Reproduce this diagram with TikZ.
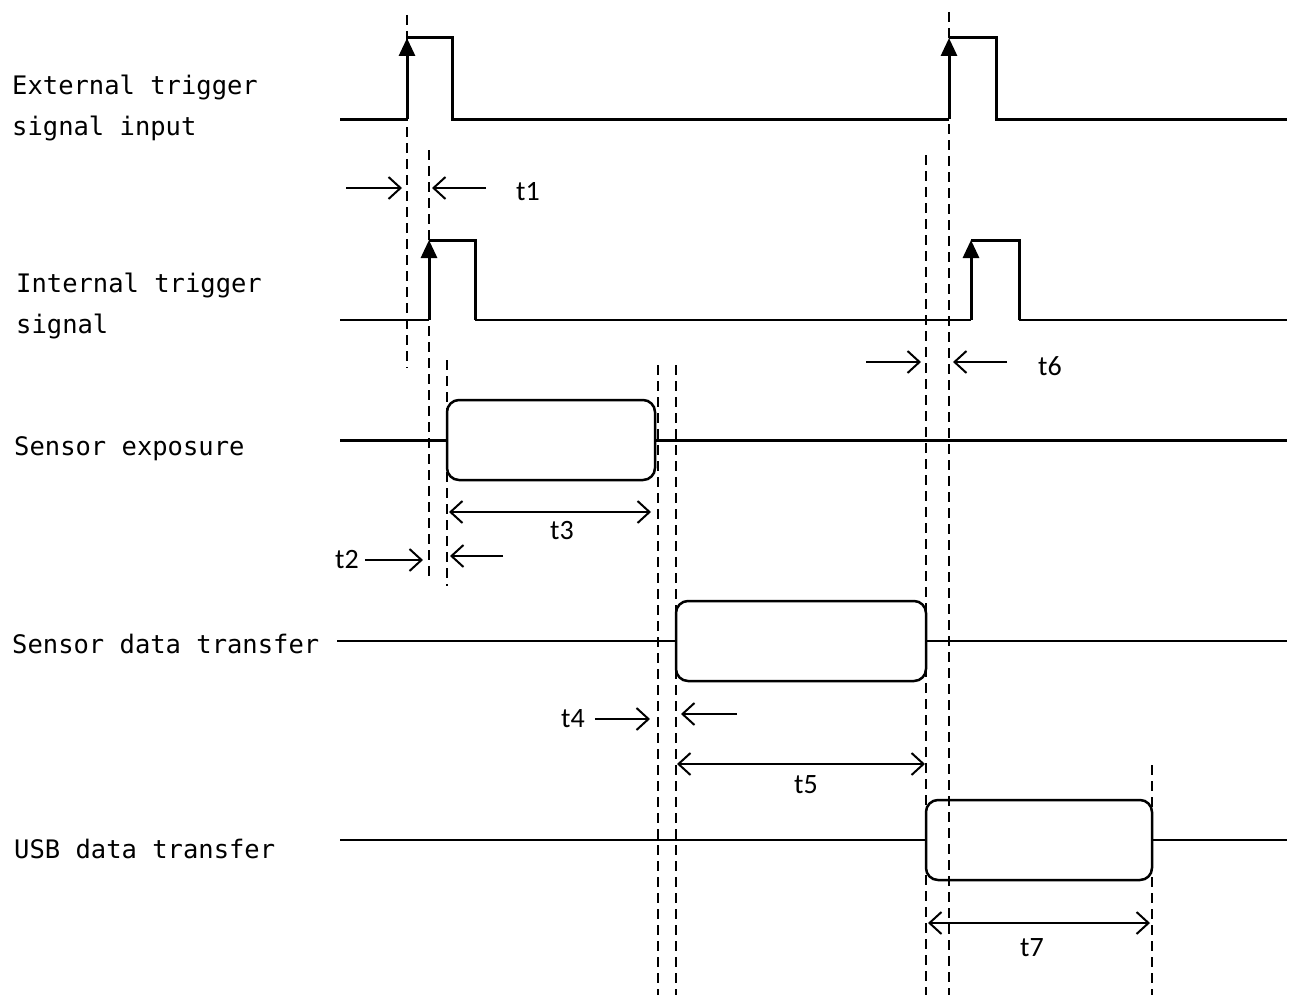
\documentclass[tikz,border=0pt]{standalone}
\usepackage{fontspec}
\newfontfamily\sigfont{DejaVu Sans Mono}
\newfontfamily\timefont{Carlito}
\usetikzlibrary{arrows.meta}

\begin{document}
\begin{tikzpicture}[
  x=1pt, y=-1pt,
  sig/.style={line width=3pt},
  thinsig/.style={line width=2pt},
  edge/.style={line width=3pt, -{Triangle[length=18pt, width=16pt]}},
  guide/.style={line width=2pt, dash pattern=on 10pt off 6pt},
  tick/.style={line width=2pt, -{Straight Barb[length=12pt, width=22pt]}},
  span/.style={line width=2pt, {Straight Barb[length=12pt, width=22pt]}-{Straight Barb[length=12pt, width=22pt]}},
  busy/.style={draw, line width=2.5pt, rounded corners=12pt, minimum height=80pt, inner sep=0pt},
  lbl/.style={font=\sigfont\fontsize{25.5}{41}\selectfont, anchor=base west, align=left, inner sep=0pt},
  tlbl/.style={font=\timefont\fontsize{28}{30}\selectfont, inner sep=0pt}
]
\useasboundingbox (0,0) rectangle (1293,998);

% Signal names
\node[lbl] (ext) at (12,135) {External trigger\\signal input};
\node[lbl] (int) at (16,333) {Internal trigger\\signal};
\node[lbl] (exp) at (14,455) {Sensor exposure};
\node[lbl] (sdt) at (12,653) {Sensor data transfer};
\node[lbl] (usb) at (14,858) {USB data transfer};

% Busy intervals
\node[busy, minimum width=208pt] (expbox) at (551,440) {};
\node[busy, minimum width=250pt] (sdtbox) at (801,641) {};
\node[busy, minimum width=226pt] (usbbox) at (1039,840) {};

% External trigger
\draw[sig] (340,119) -- (407,119);
\draw[edge] (407,119) -- (407,38);
\draw[sig] (407,38) -- (452,38) -- (452,119) -- (949,119);
\draw[edge] (949,119) -- (949,38);
\draw[sig] (949,38) -- (996,38) -- (996,119) -- (1287,119);

% Internal trigger
\draw[thinsig] (340,320) -- (429,320);
\draw[edge] (429,320) -- (429,240);
\draw[sig] (429,240) -- (475,240) -- (475,320);
\draw[thinsig] (475,320) -- (971,320);
\draw[edge] (971,320) -- (971,240);
\draw[sig] (971,240) -- (1019,240) -- (1019,320);
\draw[thinsig] (1019,320) -- (1287,320);

% Data lines
\draw[sig] (340,440) -- (expbox.west);
\draw[sig] (expbox.east) -- (1287,440);
\draw[thinsig] (337,641) -- (sdtbox.west);
\draw[thinsig] (sdtbox.east) -- (1287,641);
\draw[thinsig] (340,840) -- (usbbox.west);
\draw[thinsig] (usbbox.east) -- (1287,840);

% Guide lines
\draw[guide] (407,15) -- (407,368);
\draw[guide] (429,150) -- (429,580);
\draw[guide] (447,360) -- (447,586);
\draw[guide] (658,365) -- (658,995);
\draw[guide] (676,365) -- (676,995);
\draw[guide] (926,155) -- (926,995);
\draw[guide] (949,12) -- (949,995);
\draw[guide] (1152,765) -- (1152,995);

% Time labels
\node[tlbl] (t1) at (528,192) {t1};
\node[tlbl] (t2) at (347,560) {t2};
\node[tlbl] (t3) at (562,531) {t3};
\node[tlbl] (t4) at (573,719) {t4};
\node[tlbl] (t5) at (806,785) {t5};
\node[tlbl] (t6) at (1050,366) {t6};
\node[tlbl] (t7) at (1032,948) {t7};

% Time arrows
\draw[tick] (346,188) -- (402,188);
\draw[tick] (486,188) -- (432,188);
\draw[tick] ([xshift=6pt]t2.east) -- ++(58,0);
\draw[tick] (503,556) -- (450,556);
\draw[span] (449,512) -- (651,512);
\draw[tick] ([xshift=10pt]t4.east) -- ++(55,0);
\draw[tick] (737,714) -- (681,714);
\draw[span] (677,764) -- (925,764);
\draw[tick] (866,362) -- (921,362);
\draw[tick] (1007,362) -- (953,362);
\draw[span] (928,923) -- (1150,923);

\end{tikzpicture}
\end{document}
